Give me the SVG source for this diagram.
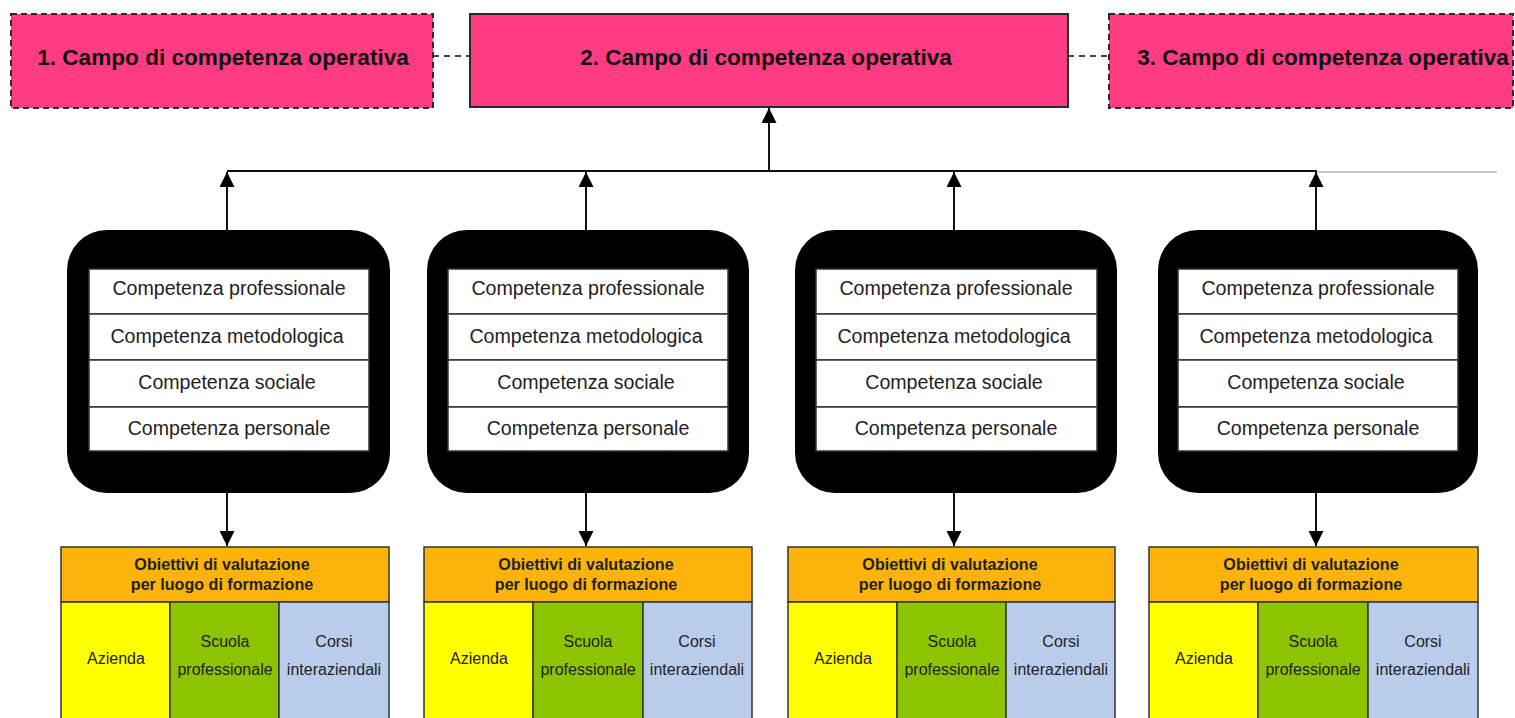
<svg xmlns="http://www.w3.org/2000/svg" width="1515" height="718" viewBox="0 0 1515 718">
<style>
.bg{fill:#ffffff}
.field{fill:#FF3B84;stroke:#2a2a2a;stroke-width:2}
.dashed{stroke-dasharray:6 4}
.ftxt{font-family:"Liberation Sans",Arial,sans-serif;font-weight:bold;font-size:22.6px;fill:#111;text-anchor:middle}
.frame{fill:#000}
.row{fill:#fff;stroke:#333;stroke-width:1.5}
.ctxt{font-family:"Liberation Sans",Arial,sans-serif;font-size:19.6px;fill:#222;text-anchor:middle}
.hdr{fill:#FDB30A;stroke:#333;stroke-width:1.5}
.htxt{font-family:"Liberation Sans",Arial,sans-serif;font-weight:bold;font-size:16.1px;fill:#222;text-anchor:middle}
.az{fill:#FFFF00;stroke:#333;stroke-width:1.5}
.sc{fill:#8CC400;stroke:#333;stroke-width:1.5}
.co{fill:#B9CDEB;stroke:#333;stroke-width:1.5}
.ltxt{font-family:"Liberation Sans",Arial,sans-serif;font-size:16px;fill:#222;text-anchor:middle}
.conn{stroke:#111;stroke-width:2;fill:none}
.thin{stroke:#999;stroke-width:1;fill:none}
.dconn{stroke:#444;stroke-width:2;stroke-dasharray:6 5;fill:none}
</style>
<defs>
<marker id="ah" viewBox="0 0 15 15" refX="15" refY="7.5" markerWidth="15" markerHeight="15" markerUnits="userSpaceOnUse" orient="auto">
<path d="M0,0 L15,7.5 L0,15 Z" fill="#000"/>
</marker>
</defs>
<rect class="bg" x="0" y="0" width="1515" height="718"/>

<g id="connectors">
<line class="dconn" x1="433" y1="56" x2="470" y2="56"/>
<line class="dconn" x1="1068" y1="56" x2="1109" y2="56"/>
<line class="conn" x1="227" y1="171" x2="1317" y2="171"/>
<line class="thin" x1="1317" y1="172" x2="1497" y2="172"/>
<line class="conn" x1="769" y1="171" x2="769" y2="108" marker-end="url(#ah)"/>
<line class="conn" x1="227" y1="230" x2="227" y2="172" marker-end="url(#ah)"/>
<line class="conn" x1="586" y1="230" x2="586" y2="172" marker-end="url(#ah)"/>
<line class="conn" x1="954" y1="230" x2="954" y2="172" marker-end="url(#ah)"/>
<line class="conn" x1="1316" y1="230" x2="1316" y2="172" marker-end="url(#ah)"/>
<line class="conn" x1="227" y1="493" x2="227" y2="546" marker-end="url(#ah)"/>
<line class="conn" x1="586" y1="493" x2="586" y2="546" marker-end="url(#ah)"/>
<line class="conn" x1="954" y1="493" x2="954" y2="546" marker-end="url(#ah)"/>
<line class="conn" x1="1316" y1="493" x2="1316" y2="546" marker-end="url(#ah)"/>
</g>

<g id="field1">
<rect class="field dashed" x="11" y="14" width="422" height="94"/>
<text class="ftxt" x="223" y="65">1. Campo di competenza operativa</text>
</g>
<g id="field2">
<rect class="field" x="470" y="14" width="598" height="93"/>
<text class="ftxt" x="766" y="65">2. Campo di competenza operativa</text>
</g>
<g id="field3">
<rect class="field dashed" x="1109" y="14" width="404" height="94"/>
<text class="ftxt" x="1323" y="65">3. Campo di competenza operativa</text>
</g>

<g id="comp1">
<rect class="frame" x="67" y="230" width="323" height="263" rx="40"/>
<rect class="row" x="89" y="269" width="280" height="45"/>
<rect class="row" x="89" y="314" width="280" height="46"/>
<rect class="row" x="89" y="360" width="280" height="47"/>
<rect class="row" x="89" y="407" width="280" height="44"/>
<text class="ctxt" x="229" y="295">Competenza professionale</text>
<text class="ctxt" x="227" y="343">Competenza metodologica</text>
<text class="ctxt" x="227" y="389">Competenza sociale</text>
<text class="ctxt" x="229" y="435">Competenza personale</text>
</g>
<g id="comp2">
<rect class="frame" x="427" y="230" width="322" height="263" rx="40"/>
<rect class="row" x="448" y="269" width="280" height="45"/>
<rect class="row" x="448" y="314" width="280" height="46"/>
<rect class="row" x="448" y="360" width="280" height="47"/>
<rect class="row" x="448" y="407" width="280" height="44"/>
<text class="ctxt" x="588" y="295">Competenza professionale</text>
<text class="ctxt" x="586" y="343">Competenza metodologica</text>
<text class="ctxt" x="586" y="389">Competenza sociale</text>
<text class="ctxt" x="588" y="435">Competenza personale</text>
</g>
<g id="comp3">
<rect class="frame" x="795" y="230" width="322" height="263" rx="40"/>
<rect class="row" x="816" y="269" width="281" height="45"/>
<rect class="row" x="816" y="314" width="281" height="46"/>
<rect class="row" x="816" y="360" width="281" height="47"/>
<rect class="row" x="816" y="407" width="281" height="44"/>
<text class="ctxt" x="956" y="295">Competenza professionale</text>
<text class="ctxt" x="954" y="343">Competenza metodologica</text>
<text class="ctxt" x="954" y="389">Competenza sociale</text>
<text class="ctxt" x="956" y="435">Competenza personale</text>
</g>
<g id="comp4">
<rect class="frame" x="1158" y="230" width="320" height="263" rx="40"/>
<rect class="row" x="1178" y="269" width="280" height="45"/>
<rect class="row" x="1178" y="314" width="280" height="46"/>
<rect class="row" x="1178" y="360" width="280" height="47"/>
<rect class="row" x="1178" y="407" width="280" height="44"/>
<text class="ctxt" x="1318" y="295">Competenza professionale</text>
<text class="ctxt" x="1316" y="343">Competenza metodologica</text>
<text class="ctxt" x="1316" y="389">Competenza sociale</text>
<text class="ctxt" x="1318" y="435">Competenza personale</text>
</g>

<g id="obj1">
<rect class="hdr" x="61" y="547" width="328" height="55"/>
<text class="htxt" x="222" y="570">Obiettivi di valutazione</text>
<text class="htxt" x="222" y="590">per luogo di formazione</text>
<rect class="az" x="61" y="602" width="109" height="120"/>
<rect class="sc" x="170" y="602" width="109" height="120"/>
<rect class="co" x="279" y="602" width="110" height="120"/>
<text class="ltxt" x="116" y="664">Azienda</text>
<text class="ltxt" x="225" y="647">Scuola</text>
<text class="ltxt" x="225" y="675">professionale</text>
<text class="ltxt" x="334" y="647">Corsi</text>
<text class="ltxt" x="334" y="675">interaziendali</text>
</g>
<g id="obj2">
<rect class="hdr" x="424" y="547" width="328" height="55"/>
<text class="htxt" x="586" y="570">Obiettivi di valutazione</text>
<text class="htxt" x="586" y="590">per luogo di formazione</text>
<rect class="az" x="424" y="602" width="109" height="120"/>
<rect class="sc" x="533" y="602" width="110" height="120"/>
<rect class="co" x="643" y="602" width="109" height="120"/>
<text class="ltxt" x="479" y="664">Azienda</text>
<text class="ltxt" x="588" y="647">Scuola</text>
<text class="ltxt" x="588" y="675">professionale</text>
<text class="ltxt" x="697" y="647">Corsi</text>
<text class="ltxt" x="697" y="675">interaziendali</text>
</g>
<g id="obj3">
<rect class="hdr" x="788" y="547" width="327" height="55"/>
<text class="htxt" x="950" y="570">Obiettivi di valutazione</text>
<text class="htxt" x="950" y="590">per luogo di formazione</text>
<rect class="az" x="788" y="602" width="109" height="120"/>
<rect class="sc" x="897" y="602" width="109" height="120"/>
<rect class="co" x="1006" y="602" width="109" height="120"/>
<text class="ltxt" x="843" y="664">Azienda</text>
<text class="ltxt" x="952" y="647">Scuola</text>
<text class="ltxt" x="952" y="675">professionale</text>
<text class="ltxt" x="1061" y="647">Corsi</text>
<text class="ltxt" x="1061" y="675">interaziendali</text>
</g>
<g id="obj4">
<rect class="hdr" x="1149" y="547" width="329" height="55"/>
<text class="htxt" x="1311" y="570">Obiettivi di valutazione</text>
<text class="htxt" x="1311" y="590">per luogo di formazione</text>
<rect class="az" x="1149" y="602" width="109" height="120"/>
<rect class="sc" x="1258" y="602" width="110" height="120"/>
<rect class="co" x="1368" y="602" width="110" height="120"/>
<text class="ltxt" x="1204" y="664">Azienda</text>
<text class="ltxt" x="1313" y="647">Scuola</text>
<text class="ltxt" x="1313" y="675">professionale</text>
<text class="ltxt" x="1423" y="647">Corsi</text>
<text class="ltxt" x="1423" y="675">interaziendali</text>
</g>
</svg>
